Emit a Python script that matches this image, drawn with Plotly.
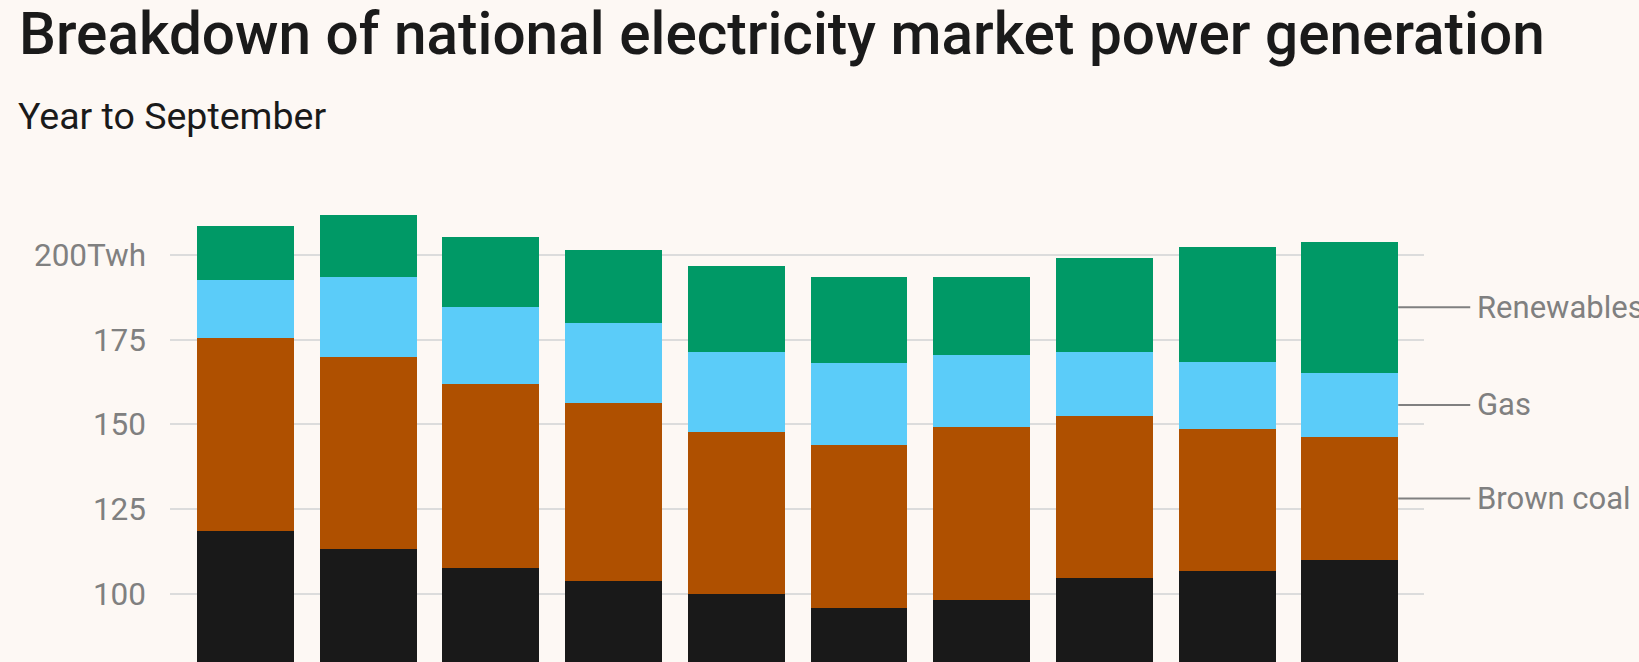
import plotly.graph_objects as go

years = [2009, 2010, 2011, 2012, 2013, 2014, 2015, 2016, 2017, 2018]
black_coal = [118.6, 113.3, 107.7, 103.8, 100.1, 96.0, 98.3, 104.8, 106.9, 110.0]
brown_coal = [57.0, 56.6, 54.3, 52.6, 47.8, 48.0, 51.0, 47.7, 41.8, 36.3]
gas = [17.0, 23.6, 22.7, 23.5, 23.5, 24.1, 21.2, 18.9, 19.7, 18.9]
renewables = [15.9, 18.3, 20.6, 21.6, 25.4, 25.4, 23.0, 27.7, 34.0, 38.6]

tick_vals = [75, 100, 125, 150, 175, 200]
tick_text = ["75", "100", "125", "150", "175", "200Twh"]

BG = "#fdf8f4"
GREY = "#808080"
FONT = "Roboto"
BAR_W = 0.79

series = [
    ("Black coal", black_coal, "#191919"),
    ("Brown coal", brown_coal, "#af5000"),
    ("Gas", gas, "#5bccf9"),
    ("Renewables", renewables, "#009966"),
]

fig = go.Figure()
for name, vals, col in series:
    fig.add_trace(go.Bar(x=years, y=vals, name=name, width=BAR_W,
                         marker=dict(color=col, line=dict(width=0)),
                         hoverinfo="skip"))

# right-side labels for the last bar
last = len(years) - 1
base = 0.0
for name, vals, col in series:
    mid = base + vals[last] / 2
    base += vals[last]
    if name == "Black coal":
        continue
    fig.add_annotation(x=years[last] + BAR_W / 2, y=mid, xref="x", yref="y",
                       text=name, showarrow=True, arrowhead=0, arrowwidth=2,
                       arrowcolor=GREY, ax=72, ay=0, xanchor="left",
                       borderpad=6,
                       font=dict(family=FONT, size=31, color=GREY))

fig.add_annotation(text="Breakdown of national electricity market power generation",
                   xref="paper", yref="paper", x=-0.1223, y=1.303,
                   xanchor="left", yanchor="middle", showarrow=False,
                   font=dict(family=FONT, size=58.5, color="#1a1a1a", weight=500))
fig.add_annotation(text="Year to September",
                   xref="paper", yref="paper", x=-0.123, y=1.133,
                   xanchor="left", yanchor="middle", showarrow=False,
                   font=dict(family=FONT, size=37.5, color="#1a1a1a"))

fig.update_layout(
    barmode="stack",
    width=1639, height=662,
    margin=dict(l=170, r=215, t=180, b=0, pad=0),
    paper_bgcolor=BG, plot_bgcolor=BG,
    showlegend=False,
    font=dict(family=FONT, color=GREY),
    xaxis=dict(range=[years[0] - 0.615, years[-1] + 0.605], showticklabels=False,
               showgrid=False, zeroline=False, showline=False, ticks=""),
    yaxis=dict(range=[80, 222], tickvals=tick_vals, ticktext=tick_text,
               showgrid=True, gridcolor="#dcdcdc", gridwidth=2,
               zeroline=False, showline=False, ticks="",
               ticklabelstandoff=23,
               tickfont=dict(family=FONT, size=31.5, color=GREY)),
)

fig.write_html("out.html",
               config={"displayModeBar": False},
               post_script="document.body.style.margin='0';"
                           "document.body.style.overflow='hidden';"
                           "document.body.style.background='" + BG + "';")
